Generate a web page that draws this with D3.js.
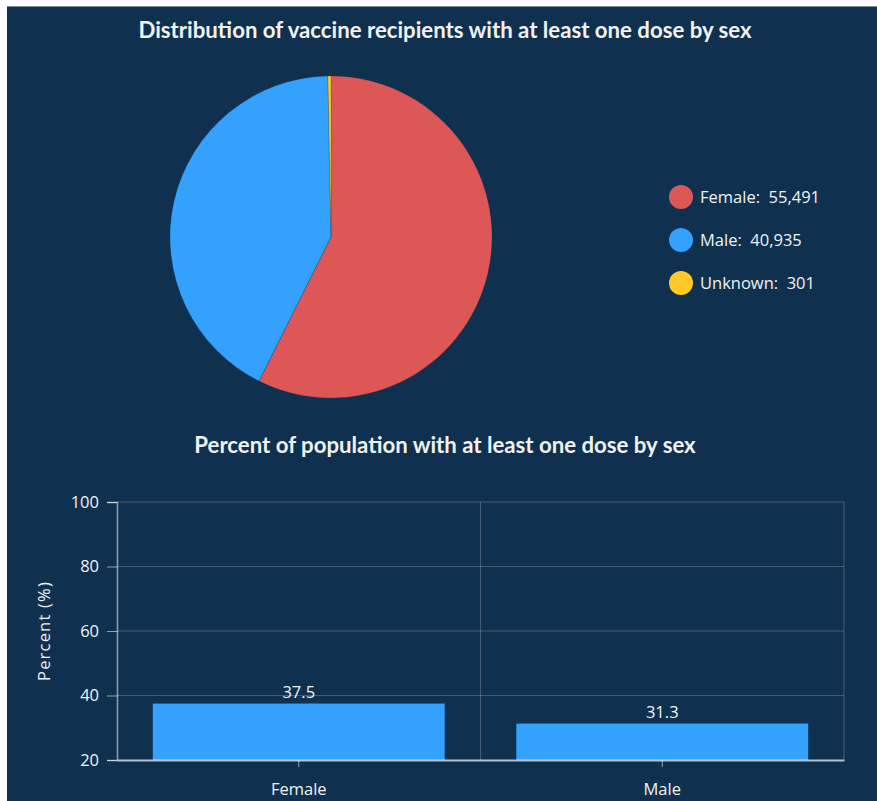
<!DOCTYPE html>
<html>
<head>
<meta charset="utf-8">
<script src="https://cdn.jsdelivr.net/npm/d3@7"></script>
<style>
  html, body { margin: 0; padding: 0; background: #ffffff; }
  svg { display: block; }
</style>
</head>
<body>
<svg id="chart" width="877" height="801"></svg>
<script>
// ---- data ----
const pieTitle = "Distribution of vaccine recipients with at least one dose by sex";
const pieCategories = ["Female", "Male", "Unknown"];
const pieValues = [55491, 40935, 301];
const pieColors = ["#dd5757", "#33a1fd", "#ffc928"];

const barTitle = "Percent of population with at least one dose by sex";
const barCategories = ["Female", "Male"];
const barValues = [37.5, 31.3];
const yTicks = [20, 40, 60, 80, 100];
const yLabel = "Percent (%)";

// ---- layout ----
const svg = d3.select("#chart");
const bg = "#10304f";
const textColor = "#f2f2f2";
const fontSmall = 16.5;

svg.append("rect").attr("x", 7).attr("y", 6).attr("width", 870).attr("height", 795).attr("fill", bg);
svg.append("line").attr("x1", 7).attr("x2", 877).attr("y1", 6.5).attr("y2", 6.5)
  .attr("stroke", "#7d8a99").attr("stroke-width", 1);

// ---- pie ----
svg.append("text").attr("x", 445).attr("y", 38).attr("text-anchor", "middle")
  .attr("fill", textColor).attr("font-family", "Lato").attr("font-weight", "bold")
  .attr("font-size", 22.2).text(pieTitle);

const pieData = pieCategories.map((c, i) => ({ cat: c, value: pieValues[i], color: pieColors[i] }));
const pie = d3.pie().sort(null).value(d => d.value);
const arc = d3.arc().innerRadius(0).outerRadius(161);
const pg = svg.append("g").attr("transform", "translate(331,237)");
pg.selectAll("path").data(pie(pieData)).join("path")
  .attr("d", arc).attr("fill", d => d.data.color)
  .attr("stroke", "rgba(16,48,79,0.35)").attr("stroke-width", 0.6);

const legend = svg.append("g");
const legY = d3.scalePoint().domain(pieCategories).range([197, 283]);
const lg = legend.selectAll("g").data(pieData).join("g")
  .attr("transform", d => `translate(681,${legY(d.cat)})`);
lg.append("circle").attr("r", 12).attr("fill", d => d.color);
lg.append("text").attr("x", 19).attr("dy", "0.35em")
  .attr("fill", textColor).attr("font-family", "Open Sans").attr("font-size", fontSmall)
  .attr("xml:space", "preserve")
  .text(d => `${d.cat}:  ${d3.format(",")(d.value)}`);

// ---- bar chart ----
svg.append("text").attr("x", 445).attr("y", 453).attr("text-anchor", "middle")
  .attr("fill", textColor).attr("font-family", "Lato").attr("font-weight", "bold")
  .attr("font-size", 22.2).text(barTitle);

const plot = { left: 117, right: 844, top: 502, bottom: 760 };
const x = d3.scaleBand().domain(barCategories).range([plot.left, plot.right]).padding(0);
const y = d3.scaleLinear().domain([20, 100]).range([plot.bottom, plot.top]);
const barW = x.bandwidth() * 0.803;

const grid = svg.append("g");
grid.selectAll("line.h").data(yTicks.filter(t => t !== 20)).join("line")
  .attr("x1", plot.left).attr("x2", plot.right)
  .attr("y1", d => y(d)).attr("y2", d => y(d))
  .attr("stroke", "rgba(255,255,255,0.22)").attr("stroke-width", 1);
const vBounds = barCategories.slice(1).map(c => x(c)).concat([plot.right]);
grid.selectAll("line.v").data(vBounds).join("line")
  .attr("x1", d => d).attr("x2", d => d)
  .attr("y1", plot.top).attr("y2", plot.bottom)
  .attr("stroke", "rgba(255,255,255,0.22)").attr("stroke-width", 1);

svg.append("g").selectAll("rect").data(barCategories).join("rect")
  .attr("x", d => x(d) + (x.bandwidth() - barW) / 2)
  .attr("width", barW)
  .attr("y", (d, i) => y(barValues[i]))
  .attr("height", (d, i) => y(20) - y(barValues[i]))
  .attr("fill", "#33a1fd");

svg.append("g").selectAll("text").data(barCategories).join("text")
  .attr("x", d => x(d) + x.bandwidth() / 2)
  .attr("y", (d, i) => y(barValues[i]) - 6)
  .attr("text-anchor", "middle").attr("fill", textColor)
  .attr("font-family", "Open Sans").attr("font-size", fontSmall)
  .text((d, i) => barValues[i].toFixed(1));

// y axis
const yAxis = d3.axisLeft(y).tickValues(yTicks).tickSize(10).tickPadding(8);
const yg = svg.append("g").attr("transform", `translate(${plot.left},0)`).call(yAxis);
yg.select(".domain").attr("stroke", "rgba(255,255,255,0.55)").attr("stroke-width", 1.5);
yg.selectAll(".tick line").attr("stroke", "rgba(255,255,255,0.55)");
yg.selectAll(".tick text").attr("fill", textColor).attr("font-family", "Open Sans").attr("font-size", fontSmall);

// x axis
const xAxis = d3.axisBottom(x).tickSize(7).tickPadding(16).tickSizeOuter(0);
const xg = svg.append("g").attr("transform", `translate(0,${plot.bottom})`).call(xAxis);
xg.select(".domain").attr("stroke", "rgba(255,255,255,0.7)").attr("stroke-width", 2);
xg.selectAll(".tick line").attr("stroke", "rgba(255,255,255,0.55)");
xg.selectAll(".tick text").attr("fill", textColor).attr("font-family", "Open Sans").attr("font-size", fontSmall);

svg.append("text")
  .attr("transform", `translate(50,${(plot.top + plot.bottom) / 2}) rotate(-90)`)
  .attr("text-anchor", "middle").attr("fill", textColor)
  .attr("font-family", "Open Sans").attr("font-size", 16.5)
  .attr("letter-spacing", 1.2)
  .text(yLabel);
</script>
</body>
</html>
